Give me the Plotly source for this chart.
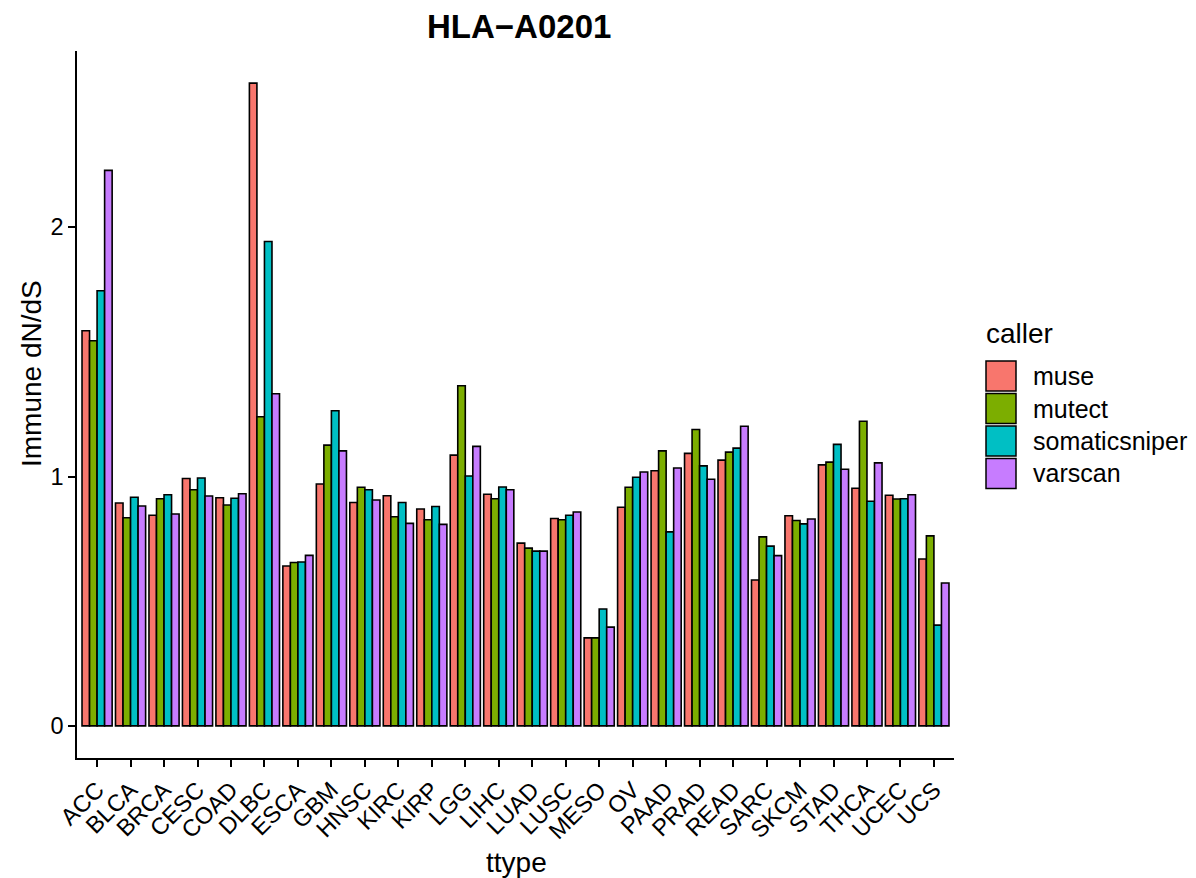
import plotly.graph_objects as go

# Cancer types on the x axis
ttype = ["ACC", "BLCA", "BRCA", "CESC", "COAD", "DLBC", "ESCA", "GBM", "HNSC",
         "KIRC", "KIRP", "LGG", "LIHC", "LUAD", "LUSC", "MESO", "OV", "PAAD",
         "PRAD", "READ", "SARC", "SKCM", "STAD", "THCA", "UCEC", "UCS"]

# Immune dN/dS per variant caller
muse = [1.585, 0.894, 0.845, 0.992, 0.915, 2.578, 0.641, 0.970, 0.896, 0.923,
        0.870, 1.086, 0.929, 0.733, 0.832, 0.353, 0.877, 1.023, 1.093, 1.066,
        0.585, 0.843, 1.047, 0.953, 0.925, 0.669]
mutect = [1.545, 0.835, 0.911, 0.947, 0.886, 1.240, 0.655, 1.126, 0.957, 0.839,
          0.827, 1.364, 0.911, 0.713, 0.827, 0.353, 0.957, 1.103, 1.189, 1.098,
          0.758, 0.824, 1.058, 1.222, 0.910, 0.762]
somaticsniper = [1.745, 0.917, 0.927, 0.994, 0.913, 1.943, 0.657, 1.264, 0.947,
                 0.896, 0.880, 1.002, 0.958, 0.701, 0.845, 0.469, 0.997, 0.778,
                 1.043, 1.114, 0.721, 0.810, 1.129, 0.901, 0.911, 0.404]
varscan = [2.228, 0.882, 0.850, 0.922, 0.931, 1.332, 0.684, 1.103, 0.906, 0.812,
           0.808, 1.121, 0.947, 0.701, 0.858, 0.396, 1.018, 1.034, 0.989, 1.202,
           0.683, 0.830, 1.029, 1.055, 0.927, 0.573]

callers = ["muse", "mutect", "somaticsniper", "varscan"]
series = [muse, mutect, somaticsniper, varscan]
colors = ["#F8766D", "#7CAE00", "#00BFC4", "#C77CFF"]

FONT = "Liberation Sans, Arial, Helvetica, sans-serif"
W, H = 1196, 878
ML, MR, MT, MB = 77, 242, 51, 120
PW, PH = W - ML - MR, H - MT - MB


def px(x):
    return (x - ML) / PW


def py(y):
    return (H - MB - y) / PH


fig = go.Figure()
for name, vals, col in zip(callers, series, colors):
    fig.add_trace(go.Bar(
        x=ttype, y=vals, name=name,
        marker=dict(color=col, line=dict(color="black", width=1.6)),
        showlegend=False,
    ))

ymax = max(max(s) for s in series)
pad = 0.05 * ymax

fig.update_layout(
    width=W, height=H,
    margin=dict(l=ML, r=MR, t=MT, b=MB),
    paper_bgcolor="white", plot_bgcolor="white",
    barmode="group", bargap=0.1, bargroupgap=0,
    font=dict(family=FONT, color="black"),
    xaxis=dict(
        range=[-0.6, len(ttype) - 0.4], showgrid=False, zeroline=False,
        showline=True, linecolor="black", linewidth=1.6,
        ticks="outside", ticklen=7, tickwidth=1.5, tickcolor="black",
        tickangle=-45, tickfont=dict(size=23.5, color="black"),
    ),
    yaxis=dict(
        range=[-pad, ymax + pad], showgrid=False, zeroline=False,
        showline=True, linecolor="black", linewidth=1.6,
        tickvals=[0, 1, 2], ticktext=["0", "1", "2"],
        ticks="outside", ticklen=7, tickwidth=1.5, tickcolor="black",
        tickfont=dict(size=23.5, color="black"),
    ),
)

annotations = [
    dict(text="<b>HLA\u2212A0201</b>", x=px(519), y=py(27), xref="paper", yref="paper",
         showarrow=False, font=dict(size=33, family=FONT), xanchor="center", yanchor="middle"),
    dict(text="ttype", x=px(516), y=py(862), xref="paper", yref="paper",
         showarrow=False, font=dict(size=28, family=FONT), xanchor="center", yanchor="middle"),
    dict(text="Immune dN/dS", x=px(31), y=py(374), xref="paper", yref="paper",
         showarrow=False, font=dict(size=28, family=FONT), textangle=-90,
         xanchor="center", yanchor="middle"),
    dict(text="caller", x=px(984), y=py(333), xref="paper", yref="paper",
         showarrow=False, font=dict(size=28, family=FONT), xanchor="left", yanchor="middle"),
]

# Legend keys drawn as outlined squares with labels
shapes = []
key_top, key_step, key_size = 361, 32.5, 30
for i, (name, col) in enumerate(zip(callers, colors)):
    top = key_top + i * key_step
    shapes.append(dict(type="rect", xref="paper", yref="paper",
                       x0=px(986), x1=px(986 + key_size),
                       y0=py(top + key_size), y1=py(top),
                       fillcolor=col, line=dict(color="black", width=1.5)))
    annotations.append(dict(text=name, x=px(1031), y=py(top + key_size / 2),
                            xref="paper", yref="paper", showarrow=False,
                            font=dict(size=25, family=FONT),
                            xanchor="left", yanchor="middle"))

fig.update_layout(annotations=annotations, shapes=shapes)
fig.write_html("out.html")
